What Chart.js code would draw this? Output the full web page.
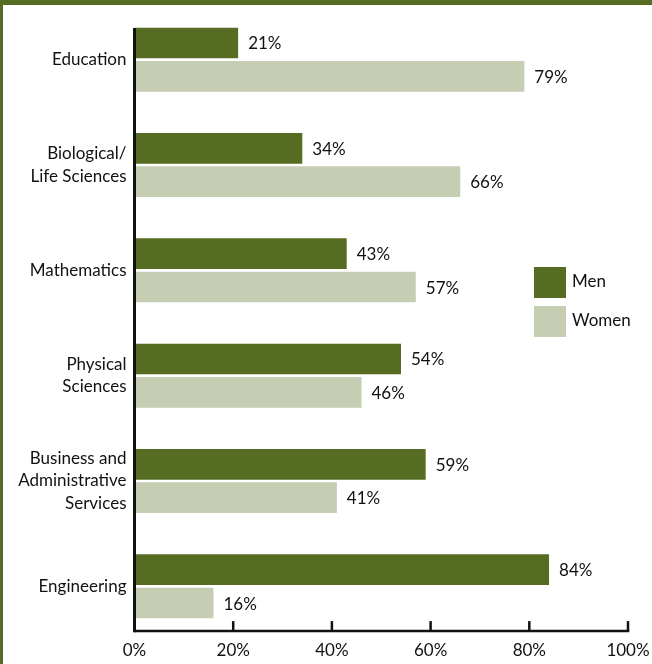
<!DOCTYPE html>
<html>
<head>
<meta charset="utf-8">
<script src="https://cdn.jsdelivr.net/npm/chart.js@4/dist/chart.umd.min.js"></script>
<style>
  html, body { margin: 0; padding: 0; background: #fff; }
  #wrap { position: relative; width: 652px; height: 664px; }
</style>
</head>
<body>
<div id="wrap"><canvas id="fieldChart" width="652" height="664"></canvas></div>
<script>
// Share of degrees by field, men vs women
const fields = [
  ['Education'],
  ['Biological/', 'Life Sciences'],
  ['Mathematics'],
  ['Physical', 'Sciences'],
  ['Business and', 'Administrative', 'Services'],
  ['Engineering']
];
const menPct = [21, 34, 43, 54, 59, 84];
const womenPct = [79, 66, 57, 46, 41, 16];
const xTicks = [0, 20, 40, 60, 80, 100];

const MEN_COLOR = '#566c22';
const WOMEN_COLOR = '#c5cdb3';
const FONT = 'Lato, "Noto Sans", sans-serif';

// frame, axis lines, value labels and legend
const decorPlugin = {
  id: 'decor',
  beforeDraw(chart) {
    const ctx = chart.ctx;
    ctx.save();
    ctx.fillStyle = '#fff';
    ctx.fillRect(0, 0, chart.width, chart.height);
    ctx.fillStyle = MEN_COLOR;
    ctx.fillRect(0, 0, chart.width, 5);
    ctx.fillRect(0, 0, 3, chart.height);
    ctx.restore();
  },
  afterDatasetsDraw(chart) {
    const ctx = chart.ctx;
    const x = chart.scales.x;
    const y = chart.scales.y;
    const band = y.getPixelForValue(1) - y.getPixelForValue(0);
    const axTop = y.getPixelForValue(0) - band * 0.30;
    const axBottom = y.getPixelForValue(fields.length - 1) + band * 0.425;
    const x0 = x.getPixelForValue(0);

    ctx.save();
    ctx.strokeStyle = '#111';
    // vertical axis
    ctx.lineWidth = 3;
    ctx.beginPath();
    ctx.moveTo(x0, axTop);
    ctx.lineTo(x0, axBottom + 1.25);
    ctx.stroke();
    // horizontal axis + inward ticks
    ctx.lineWidth = 2.5;
    ctx.beginPath();
    ctx.moveTo(x0, axBottom);
    ctx.lineTo(x.getPixelForValue(100) + 1.25, axBottom);
    ctx.stroke();
    xTicks.forEach(t => {
      if (t === 0) return;
      const px = x.getPixelForValue(t);
      ctx.beginPath();
      ctx.moveTo(px, axBottom - 10);
      ctx.lineTo(px, axBottom);
      ctx.stroke();
    });

    // value labels
    ctx.fillStyle = '#111';
    ctx.font = '17px ' + FONT;
    ctx.textAlign = 'left';
    ctx.textBaseline = 'middle';
    chart.data.datasets.forEach((ds, di) => {
      chart.getDatasetMeta(di).data.forEach((bar, i) => {
        ctx.fillText(ds.data[i] + '%', bar.x + 10, bar.y + 1);
      });
    });

    // legend
    const items = chart.data.datasets.map(ds => ({ label: ds.label, color: ds.backgroundColor }));
    const lx = 534, ly = 267, box = 32, step = 39;
    items.forEach((it, i) => {
      ctx.fillStyle = it.color;
      ctx.fillRect(lx, ly + i * step, box, 31);
      ctx.fillStyle = '#111';
      ctx.fillText(it.label, lx + box + 6, ly + i * step + 15);
    });
    ctx.restore();
  }
};

new Chart(document.getElementById('fieldChart'), {
  type: 'bar',
  data: {
    labels: fields,
    datasets: [
      { label: 'Men', data: menPct, backgroundColor: MEN_COLOR },
      { label: 'Women', data: womenPct, backgroundColor: WOMEN_COLOR }
    ]
  },
  options: {
    indexAxis: 'y',
    responsive: false,
    animation: false,
    devicePixelRatio: 1,
    layout: { padding: { top: 7, right: 24, left: 0, bottom: 0 } },
    datasets: {
      bar: { categoryPercentage: 0.634, barPercentage: 0.919 }
    },
    plugins: {
      legend: { display: false },
      tooltip: { enabled: false }
    },
    scales: {
      x: {
        min: 0,
        max: 100,
        afterFit(scale) { scale.height = 25; },
        afterBuildTicks(scale) { scale.ticks = xTicks.map(v => ({ value: v })); },
        grid: { display: false, drawTicks: false },
        border: { display: false },
        ticks: {
          padding: 1,
          color: '#111',
          font: { family: FONT, size: 17 },
          callback: v => v + '%'
        }
      },
      y: {
        afterFit(scale) {
          scale.width = 134.5;
          scale.paddingTop = 0;
          scale.paddingBottom = 0;
        },
        grid: { display: false, drawTicks: false },
        border: { display: false },
        ticks: {
          padding: 8,
          color: '#111',
          font: { family: FONT, size: 17, lineHeight: 1.32 }
        }
      }
    }
  },
  plugins: [decorPlugin]
});
</script>
</body>
</html>
